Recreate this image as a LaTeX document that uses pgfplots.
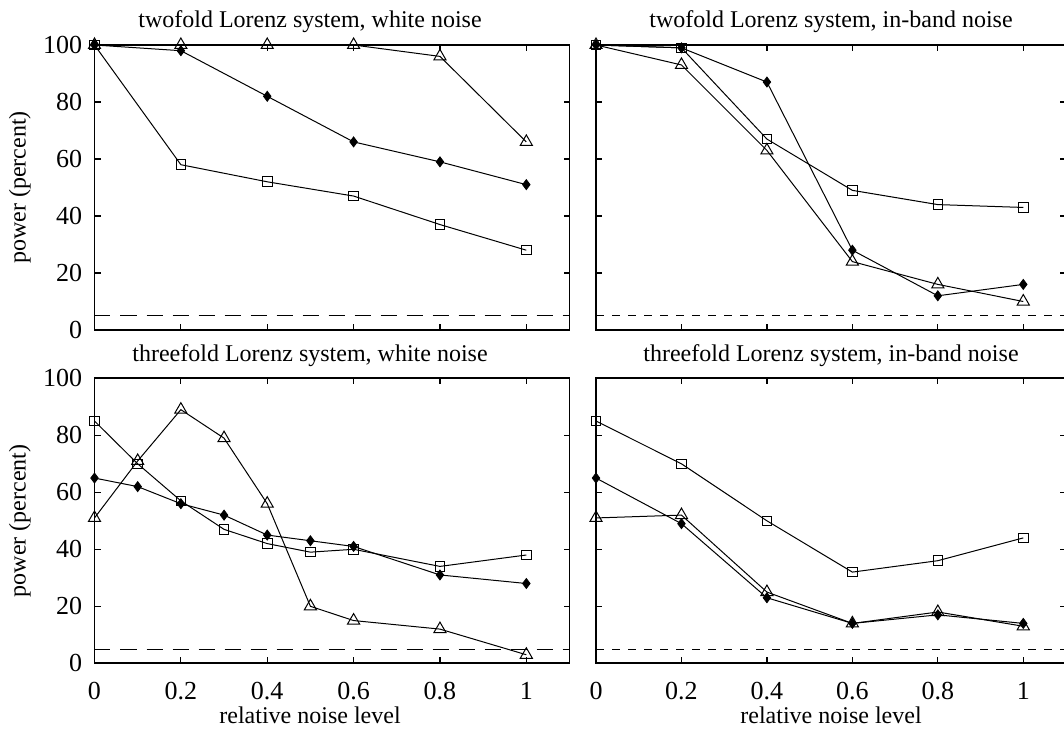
\documentclass[border=0pt]{standalone}
\usepackage{fontspec}
\setmainfont{Liberation Serif}
\usepackage{pgfplots}
\pgfplotsset{compat=1.18}
\begin{document}
\fontsize{12}{14}\selectfont
\begin{tikzpicture}
\useasboundingbox (0pt,0pt) rectangle (532pt,364.5pt);
\pgfplotsset{
 panel/.style={
  scale only axis, height=142.5pt, anchor=south west,
  xmin=0, xmax=1.1, ymin=0, ymax=100,
  xtick={0,0.2,0.4,0.6,0.8,1}, ytick={0,20,40,60,80,100},
  tick align=inside, tick pos=both, major tick length=3pt,
  axis line style={line width=0.9pt},
  every tick/.style={line width=0.6pt, black},
  /pgf/number format/assume math mode=true,
  tick label style={font=\fontsize{13}{15}\selectfont},
  xticklabel style={anchor=base, yshift=-18pt},
  yticklabel style={xshift=-2pt},
  clip=false,
  every axis plot/.append style={black, line width=0.5pt},
 },
 leftp/.style={panel, width=237.5pt,
  every axis title/.style={at={(axis description cs:0.4537,1)}, anchor=base, yshift=8.5pt, inner sep=0pt},
  every axis y label/.style={at={(axis description cs:-0.157,0.5)}, rotate=90, anchor=center},
  ylabel={power (percent)}},
 rightp/.style={panel, width=235pt, yticklabels={},
  every axis title/.style={at={(axis description cs:0.5,1)}, anchor=base, yshift=8.5pt, inner sep=0pt}},
 toprow/.style={xticklabels={}},
 botrowl/.style={
  every axis x label/.style={at={(axis description cs:0.4537,-0.212)}, anchor=base},
  xlabel={relative noise level}},
 botrowr/.style={
  every axis x label/.style={at={(axis description cs:0.5,-0.212)}, anchor=base},
  xlabel={relative noise level}},
 sq/.style={mark=square, mark size=2.4pt, mark options={solid, line width=0.5pt}},
 di/.style={mark=diamond*, mark size=2.5pt, mark options={solid, fill=black, line width=0.4pt}},
 tr/.style={mark=triangle, mark size=3.5pt, mark options={solid, line width=0.5pt}},
}
% top-left
\begin{axis}[leftp, toprow, at={(47.25pt,199.5pt)}, title={twofold Lorenz system, white noise}]
\addplot[no marks, dash pattern=on 8pt off 5pt, line width=0.5pt] coordinates {(0,5) (1.1,5)};
\addplot[tr] coordinates {(0,100) (0.2,100) (0.4,100) (0.6,100) (0.8,96) (1,66)};
\addplot[di] coordinates {(0,100) (0.2,98) (0.4,82) (0.6,66) (0.8,59) (1,51)};
\addplot[sq] coordinates {(0,100) (0.2,58) (0.4,52) (0.6,47) (0.8,37) (1,28)};
\end{axis}
% top-right
\begin{axis}[rightp, toprow, at={(298pt,199.5pt)}, title={twofold Lorenz system, in-band noise}]
\addplot[no marks, dash pattern=on 4pt off 4pt, line width=0.5pt] coordinates {(0,5) (1.1,5)};
\addplot[sq] coordinates {(0,100) (0.2,99) (0.4,67) (0.6,49) (0.8,44) (1,43)};
\addplot[tr] coordinates {(0,100) (0.2,93) (0.4,63) (0.6,24) (0.8,16) (1,10)};
\addplot[di] coordinates {(0,100) (0.2,99) (0.4,87) (0.6,28) (0.8,12) (1,16)};
\end{axis}
% bottom-left
\begin{axis}[leftp, botrowl, at={(47.25pt,32.85pt)}, title={threefold Lorenz system, white noise}]
\addplot[no marks, dash pattern=on 8pt off 5pt, line width=0.5pt] coordinates {(0,5) (1.1,5)};
\addplot[sq] coordinates {(0,85) (0.1,70) (0.2,57) (0.3,47) (0.4,42) (0.5,39) (0.6,40) (0.8,34) (1,38)};
\addplot[di] coordinates {(0,65) (0.1,62) (0.2,56) (0.3,52) (0.4,45) (0.5,43) (0.6,41) (0.8,31) (1,28)};
\addplot[tr] coordinates {(0,51) (0.1,71) (0.2,89) (0.3,79) (0.4,56) (0.5,20) (0.6,15) (0.8,12) (1,3)};
\end{axis}
% bottom-right
\begin{axis}[rightp, botrowr, at={(298pt,32.85pt)}, title={threefold Lorenz system, in-band noise}]
\addplot[no marks, dash pattern=on 4pt off 4pt, line width=0.5pt] coordinates {(0,5) (1.1,5)};
\addplot[sq] coordinates {(0,85) (0.2,70) (0.4,50) (0.6,32) (0.8,36) (1,44)};
\addplot[tr] coordinates {(0,51) (0.2,52) (0.4,25) (0.6,14) (0.8,18) (1,13)};
\addplot[di] coordinates {(0,65) (0.2,49) (0.4,23) (0.6,14) (0.8,17) (1,14)};
\end{axis}
\end{tikzpicture}
\end{document}
